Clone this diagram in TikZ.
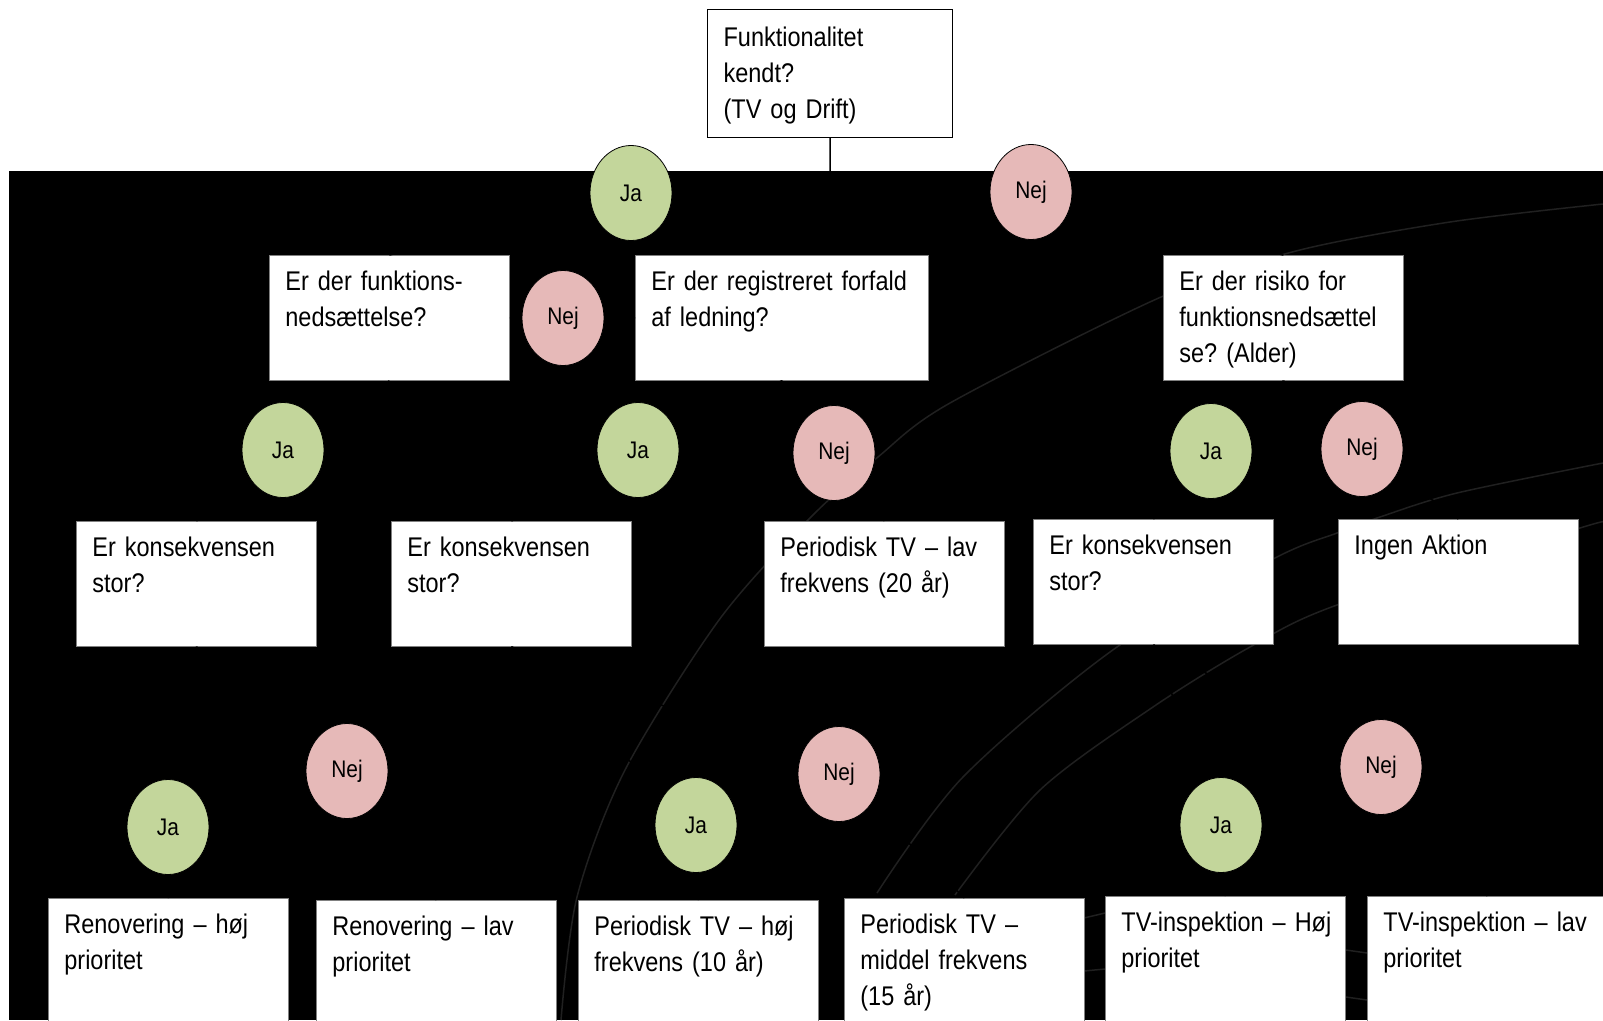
\documentclass[tikz,border=0pt]{standalone}
\usepackage{fontspec}
\setmainfont{Liberation Sans}[FakeStretch=0.87]
\usetikzlibrary{
  shapes.geometric
}
\definecolor{jagreen}{HTML}{C3D69B}
\definecolor{nejpink}{HTML}{E6B9B8}
\definecolor{swoosh}{HTML}{202020}
\frenchspacing
\newcommand\boxfont{\fontsize{27}{36}\selectfont\fontdimen2\font=6.5pt\relax}

\begin{document}
\begin{tikzpicture}[
  x=1pt,
  y=-1pt,
  question/.style={draw=gray, line width=0.8pt, fill=white, anchor=north west,
    align=left, inner xsep=16pt, inner ysep=0pt, text width=208pt,
    text height=35pt, text depth=90pt, font=\boxfont},
  answer/.style={ellipse, draw=black, line width=0.8pt, inner sep=0pt,
    minimum width=82pt, minimum height=95pt, font=\fontsize{24}{28}\selectfont},
  ja/.style={answer, fill=jagreen},
  nej/.style={answer, fill=nejpink},
  link/.style={draw=black, line width=1.6pt},
]
\useasboundingbox (0,0) rectangle (1603,1020);
\fill[white] (0,0) rectangle (1603,1020);
\fill[black] (9,171) rectangle (1603,1020);
\draw[swoosh, line width=1.5pt] plot[smooth] coordinates {(561,1020) (577,897) (625,770)
  (719,620) (808,520) (878,457) (950,403) (1161,297) (1296,251) (1450,222) (1603,204)};
\draw[swoosh, line width=1.5pt] plot[smooth] coordinates {(877,893) (963,777) (1117,647)
  (1275,558) (1337,533) (1380,517) (1457,493) (1603,463)};
\draw[swoosh, line width=1.5pt] plot[smooth] coordinates {(955,895) (1040,790) (1153,707)
  (1250,647) (1337,605) (1580,528) (1603,523)};
\draw[swoosh, line width=1.5pt] (1084,918) -- (1105,913);
\draw[swoosh, line width=1.5pt] (1084,971) -- (1105,969);
\draw[swoosh, line width=1.5pt] (1346,950) -- (1367,953);
\draw[swoosh, line width=1.5pt] (1346,997) -- (1367,1000);

\node[question, draw=black, line width=1.2pt, text width=213pt, text height=37pt,
  text depth=91pt] (top) at (707,9) {Funktionalitet\\kendt?\\(TV og Drift)};
\node[question] (funk) at (269,255) {Er der funktions-\\nedsættelse?};
\node[question, text width=261pt] (reg) at (635,255) {Er der registreret forfald\\af ledning?};
\node[question] (risiko) at (1163,255) {Er der risiko for\\funktionsnedsættel\\se? (Alder)};
\node[question] (kons1) at (76,521) {Er konsekvensen\\stor?};
\node[question] (kons2) at (391,521) {Er konsekvensen\\stor?};
\node[question] (perlav) at (764,521) {Periodisk TV – lav\\frekvens (20 år)};
\node[question] (kons3) at (1033,519) {Er konsekvensen\\stor?};
\node[question] (ingen) at (1338,519) {Ingen Aktion};
\node[question] (renohoj) at (48,898) {Renovering – høj\\prioritet};
\node[question] (renolav) at (316,900) {Renovering – lav\\prioritet};
\node[question] (perhoj) at (578,900) {Periodisk TV – høj\\frekvens (10 år)};
\node[question] (permid) at (844,898) {Periodisk TV –\\middel frekvens\\(15 år)};
\node[question] (tvhoj) at (1105,896) {\mbox{TV-inspektion – Høj}\\prioritet};
\node[question] (tvlav) at (1367,896) {\mbox{TV-inspektion – lav}\\prioritet};

\node[ja] (jaTop) at (631,193) {Ja};
\node[nej] (nejTop) at (1031,192) {Nej};
\node[nej] (nejFunk) at (563,318) {Nej};
\node[ja] (jaFunk) at (283,450) {Ja};
\node[ja] (jaReg) at (638,450) {Ja};
\node[nej] (nejReg) at (834,453) {Nej};
\node[ja] (jaRis) at (1211,451) {Ja};
\node[nej] (nejRis) at (1362,449) {Nej};
\node[nej] (nejK1) at (347,771) {Nej};
\node[ja] (jaK1) at (168,827) {Ja};
\node[ja] (jaK2) at (696,825) {Ja};
\node[nej] (nejK2) at (839,774) {Nej};
\node[ja] (jaK3) at (1221,825) {Ja};
\node[nej] (nejK3) at (1381,767) {Nej};

\draw[link] (top.south) -- ++(0,45) coordinate (split) -- (jaTop);
\draw[link] (split) -- (nejTop);
\draw[link] (jaTop) -- (funk.north);
\draw[link] (nejTop) -- (risiko.north);
\draw[link] (funk.south) -- (jaFunk);
\draw[link] (funk.east) -- (nejFunk);
\draw[link] (nejFunk) -- (reg.west);
\draw[link] (jaFunk) -- (kons1.north);
\draw[link] (reg.south) -- (jaReg);
\draw[link] (reg.south) -- (nejReg);
\draw[link] (jaReg) -- (kons2.north);
\draw[link] (nejReg) -- (perlav.north);
\draw[link] (risiko.south) -- (jaRis);
\draw[link] (risiko.south) -- (nejRis);
\draw[link] (jaRis) -- (kons3.north);
\draw[link] (nejRis) -- (ingen.north);
\draw[link] (kons1.south) -- (jaK1);
\draw[link] (kons1.south) -- (nejK1);
\draw[link] (jaK1) -- (renohoj.north);
\draw[link] (nejK1) -- (renolav.north);
\draw[link] (kons2.south) -- (jaK2);
\draw[link] (kons2.south) -- (nejK2);
\draw[link] (jaK2) -- (perhoj.north);
\draw[link] (nejK2) -- (permid.north);
\draw[link] (kons3.south) -- (jaK3);
\draw[link] (kons3.south) -- (nejK3);
\draw[link] (jaK3) -- (tvhoj.north);
\draw[link] (nejK3) -- (tvlav.north);
\end{tikzpicture}
\end{document}
